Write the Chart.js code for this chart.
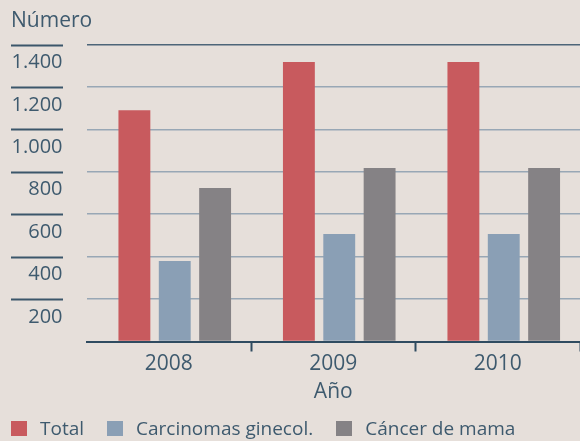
<!DOCTYPE html>
<html>
<head>
<meta charset="utf-8">
<script src="https://cdn.jsdelivr.net/npm/chart.js@4"></script>
<style>
body { margin: 0; background: #e6dfda; }
#wrap { position: relative; width: 580px; height: 441px; overflow: hidden; background: #e6dfda; }
#ytitle { position: absolute; left: 11px; top: 7px; font: 21px "Open Sans"; line-height: 25px; color: #3e5a6e; }
#legend { position: absolute; left: 11px; top: 416px; display: flex; align-items: center; font: 19px "Open Sans"; line-height: 25px; color: #3e5a6e; }
#legend .item { display: flex; align-items: center; margin-right: 23px; }
#legend .box { width: 16px; height: 15px; margin-right: 13px; }
</style>
</head>
<body>
<div id="wrap">
<canvas id="c" width="580" height="441"></canvas>
<div id="ytitle">Número</div>
<div id="legend"></div>
</div>
<script>
const years = ["2008", "2009", "2010"];
const seriesNames = ["Total", "Carcinomas ginecol.", "Cáncer de mama"];
const total = [1090, 1317, 1317];
const carcinomas = [379, 507, 507];
const cancerMama = [724, 818, 818];
const colors = ["#c85a5e", "#8a9fb5", "#858285"];

const textColor = "#3e5a6e";
const darkLine = "#2f4b60";

function fmt(v) {
  return String(v).replace(/\B(?=(\d{3})+(?!\d))/g, ".");
}

const extras = {
  id: "extras",
  beforeDatasetsDraw(chart) {
    chart.ctx.save();
    chart.ctx.translate(6, 0);
  },
  afterDatasetsDraw(chart) {
    chart.ctx.restore();
  },
  afterDraw(chart) {
    const ctx = chart.ctx;
    const y = chart.scales.y;
    ctx.save();
    ctx.strokeStyle = "#3b566a";
    ctx.lineWidth = 2;
    y.ticks.forEach(t => {
      if (t.value === 0) return;
      const py = Math.round(y.getPixelForValue(t.value)) + 0.5;
      ctx.beginPath();
      ctx.moveTo(11, py);
      ctx.lineTo(63, py);
      ctx.stroke();
    });
    ctx.restore();
  }
};

const datasets = [total, carcinomas, cancerMama].map((d, i) => ({
  label: seriesNames[i],
  data: d,
  backgroundColor: colors[i],
  categoryPercentage: 0.736,
  barPercentage: 0.79
}));

new Chart(document.getElementById("c"), {
  type: "bar",
  data: { labels: years, datasets: datasets },
  options: {
    responsive: false,
    animation: false,
    layout: { padding: { top: 44.5, bottom: 36.4, left: 0, right: -1.5 } },
    plugins: {
      legend: { display: false },
      tooltip: { enabled: false }
    },
    scales: {
      x: {
        grid: {
          offset: true,
          drawOnChartArea: false,
          drawTicks: true,
          tickLength: 10,
          tickWidth: 2,
          tickColor: ctx => ctx.index === 0 ? "transparent" : darkLine
        },
        border: { color: darkLine, width: 2 },
        ticks: { color: textColor, font: { family: "Open Sans", size: 21 }, padding: 0 },
        title: {
          display: true,
          text: "Año",
          color: textColor,
          font: { family: "Open Sans", size: 21 },
          padding: 0
        },
        afterFit: s => { s.height = 63.1; }
      },
      y: {
        min: 0,
        max: 1400,
        border: { display: false },
        grid: {
          drawTicks: false,
          color: ctx => ctx.tick.value === 0 ? "transparent" : (ctx.tick.value === 1400 ? "#4d6578" : "#98a7b5"),
          lineWidth: 1.5
        },
        ticks: {
          stepSize: 200,
          color: textColor,
          font: { family: "Open Sans", size: 20 },
          padding: 24,
          labelOffset: 18,
          callback: v => v === 0 ? "" : fmt(v)
        },
        afterFit: s => { s.width = 86.5; }
      }
    }
  },
  plugins: [extras]
});

const legend = document.getElementById("legend");
seriesNames.forEach((name, i) => {
  const item = document.createElement("div");
  item.className = "item";
  const box = document.createElement("span");
  box.className = "box";
  box.style.background = colors[i];
  const txt = document.createElement("span");
  txt.textContent = name;
  item.appendChild(box);
  item.appendChild(txt);
  legend.appendChild(item);
});
</script>
</body>
</html>
